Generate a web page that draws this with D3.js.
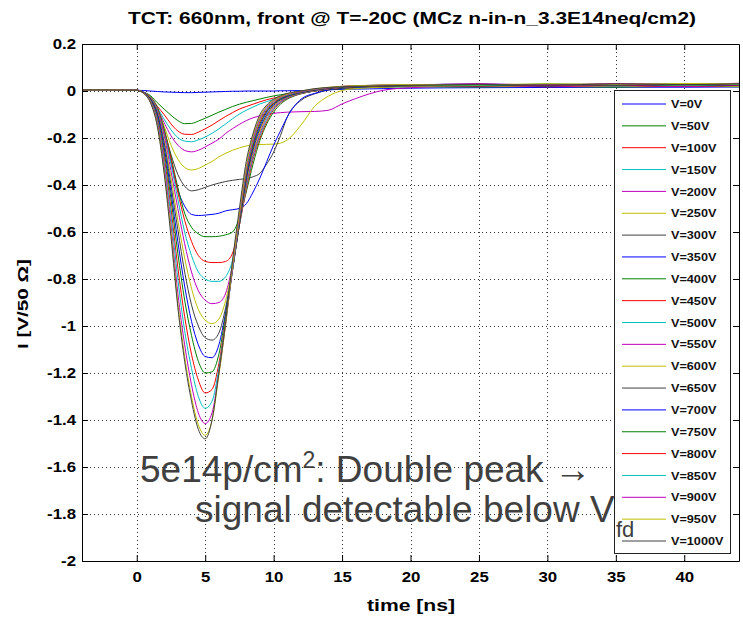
<!DOCTYPE html>
<html>
<head>
<meta charset="utf-8">
<script src="https://cdn.jsdelivr.net/npm/d3@7"></script>
<style>
body { margin: 0; background: #fff; }
svg { display: block; font-family: "Liberation Sans", Arial, Helvetica, sans-serif; }
</style>
</head>
<body>
<svg id="chart" width="743" height="629"></svg>
<script>
// sample times (ns)
var times = [-4, 0, 0.5, 1, 1.5, 2, 2.5, 3, 3.5, 4, 4.5, 5, 5.5, 6, 6.5, 7, 7.5, 8, 8.5, 9, 9.5, 10, 10.5, 11, 12, 13, 14, 15, 16, 17, 18, 20, 25, 30, 35, 40, 44]

var voltages = [0, 50, 100, 150, 200, 250, 300, 350, 400, 450, 500, 550, 600, 650, 700, 750, 800, 850, 900, 950, 1000]

// current I [V/50 Ohm] per bias voltage
var v0 = [0.005, 0.003, 0.002, 0.0, -0.002, -0.004, -0.005, -0.006, -0.007, -0.007, -0.006, -0.005, -0.004, -0.003, -0.002, -0.001, -0.001, 0.0, 0.0, 0.0, 0.0, 0.0, 0.001, 0.001, 0.002, 0.003, 0.005, 0.007, 0.008, 0.009, 0.01, 0.012, 0.014, 0.015, 0.016, 0.016, 0.017]
var v50 = [0.005, 0.003, -0.005, -0.02, -0.05, -0.077, -0.103, -0.126, -0.139, -0.138, -0.128, -0.116, -0.103, -0.09, -0.078, -0.066, -0.056, -0.048, -0.041, -0.034, -0.027, -0.021, -0.016, -0.012, -0.005, 0.001, 0.006, 0.01, 0.013, 0.015, 0.016, 0.018, 0.017, 0.02, 0.016, 0.021, 0.018]
var v100 = [0.005, 0.003, -0.005, -0.026, -0.065, -0.10, -0.14, -0.17, -0.184, -0.185, -0.175, -0.161, -0.145, -0.126, -0.108, -0.092, -0.077, -0.066, -0.056, -0.046, -0.037, -0.03, -0.024, -0.018, -0.008, 0.0, 0.007, 0.011, 0.014, 0.016, 0.018, 0.02, 0.023, 0.018, 0.022, 0.019, 0.023]
var v150 = [0.005, 0.003, -0.005, -0.027, -0.07, -0.12, -0.165, -0.198, -0.213, -0.216, -0.208, -0.196, -0.18, -0.161, -0.14, -0.118, -0.098, -0.082, -0.068, -0.055, -0.045, -0.036, -0.028, -0.021, -0.01, 0.0, 0.008, 0.012, 0.015, 0.017, 0.019, 0.021, 0.02, 0.025, 0.021, 0.026, 0.022]
var v200 = [0.005, 0.003, -0.005, -0.028, -0.075, -0.135, -0.19, -0.23, -0.253, -0.259, -0.252, -0.238, -0.222, -0.205, -0.18, -0.16, -0.142, -0.126, -0.114, -0.105, -0.099, -0.095, -0.092, -0.09, -0.088, -0.087, -0.082, -0.055, -0.032, -0.012, 0.003, 0.014, 0.022, 0.019, 0.024, 0.02, 0.025]
var v250 = [0.005, 0.003, -0.005, -0.03, -0.08, -0.15, -0.23, -0.29, -0.325, -0.336, -0.33, -0.315, -0.3, -0.28, -0.265, -0.252, -0.242, -0.234, -0.23, -0.228, -0.227, -0.226, -0.222, -0.208, -0.145, -0.065, -0.022, 0.002, 0.01, 0.014, 0.017, 0.02, 0.019, 0.024, 0.021, 0.025, 0.02]
var v300 = [0.005, 0.003, -0.005, -0.03, -0.085, -0.17, -0.27, -0.355, -0.405, -0.425, -0.42, -0.41, -0.4, -0.392, -0.385, -0.38, -0.376, -0.373, -0.365, -0.35, -0.31, -0.26, -0.19, -0.11, -0.04, -0.012, 0.004, 0.012, 0.016, 0.018, 0.02, 0.022, 0.026, 0.021, 0.027, 0.023, 0.028]
var v350 = [0.005, 0.003, -0.005, -0.03, -0.09, -0.17, -0.3, -0.42, -0.49, -0.525, -0.53, -0.528, -0.525, -0.52, -0.51, -0.505, -0.5, -0.48, -0.43, -0.37, -0.3, -0.23, -0.17, -0.11, -0.035, -0.01, 0.005, 0.013, 0.017, 0.019, 0.021, 0.023, 0.021, 0.027, 0.022, 0.027, 0.024]
var v400 = [0.005, 0.003, -0.005, -0.024, -0.07, -0.16, -0.28, -0.41, -0.52, -0.58, -0.608, -0.62, -0.62, -0.618, -0.612, -0.6, -0.54, -0.43, -0.31, -0.21, -0.14, -0.09, -0.056, -0.035, -0.012, 0.0, 0.008, 0.014, 0.018, 0.02, 0.022, 0.023, 0.027, 0.022, 0.028, 0.024, 0.029]
var v450 = [0.005, 0.003, -0.005, -0.025, -0.075, -0.17, -0.29, -0.43, -0.55, -0.64, -0.70, -0.725, -0.73, -0.73, -0.725, -0.69, -0.57, -0.42, -0.29, -0.2, -0.13, -0.08, -0.05, -0.032, -0.011, 0.0, 0.009, 0.015, 0.019, 0.021, 0.022, 0.024, 0.021, 0.026, 0.023, 0.029, 0.025]
var v500 = [0.005, 0.003, -0.005, -0.026, -0.08, -0.18, -0.31, -0.46, -0.6, -0.7, -0.77, -0.8, -0.81, -0.81, -0.79, -0.72, -0.57, -0.41, -0.28, -0.19, -0.12, -0.075, -0.047, -0.03, -0.01, 0.001, 0.01, 0.016, 0.02, 0.022, 0.023, 0.024, 0.028, 0.023, 0.029, 0.025, 0.03]
var v550 = [0.005, 0.003, -0.006, -0.028, -0.085, -0.19, -0.34, -0.5, -0.65, -0.77, -0.85, -0.89, -0.905, -0.9, -0.86, -0.74, -0.57, -0.4, -0.27, -0.18, -0.11, -0.07, -0.044, -0.028, -0.009, 0.002, 0.01, 0.016, 0.02, 0.022, 0.023, 0.025, 0.023, 0.028, 0.024, 0.03, 0.026]
var v600 = [0.005, 0.003, -0.006, -0.03, -0.09, -0.21, -0.37, -0.55, -0.71, -0.84, -0.93, -0.975, -0.99, -0.97, -0.89, -0.75, -0.57, -0.39, -0.26, -0.17, -0.105, -0.065, -0.04, -0.026, -0.008, 0.002, 0.011, 0.017, 0.021, 0.022, 0.024, 0.025, 0.029, 0.024, 0.03, 0.026, 0.031]
var v650 = [0.005, 0.003, -0.007, -0.032, -0.095, -0.22, -0.4, -0.59, -0.77, -0.91, -1.0, -1.05, -1.06, -1.03, -0.92, -0.76, -0.57, -0.38, -0.25, -0.16, -0.1, -0.06, -0.038, -0.024, -0.007, 0.003, 0.011, 0.017, 0.02, 0.022, 0.023, 0.025, 0.022, 0.027, 0.025, 0.03, 0.027]
var v700 = [0.005, 0.003, -0.007, -0.035, -0.1, -0.24, -0.43, -0.64, -0.83, -0.98, -1.08, -1.13, -1.135, -1.08, -0.94, -0.76, -0.56, -0.37, -0.24, -0.15, -0.09, -0.056, -0.035, -0.022, -0.006, 0.004, 0.012, 0.018, 0.021, 0.023, 0.024, 0.026, 0.03, 0.025, 0.031, 0.027, 0.032]
var v750 = [0.005, 0.003, -0.008, -0.037, -0.11, -0.26, -0.46, -0.69, -0.89, -1.04, -1.15, -1.2, -1.195, -1.12, -0.95, -0.76, -0.56, -0.36, -0.23, -0.14, -0.085, -0.053, -0.033, -0.02, -0.005, 0.005, 0.012, 0.018, 0.021, 0.023, 0.024, 0.025, 0.024, 0.029, 0.026, 0.031, 0.027]
var v800 = [0.005, 0.003, -0.008, -0.04, -0.118, -0.28, -0.5, -0.75, -0.96, -1.12, -1.23, -1.285, -1.27, -1.16, -0.97, -0.76, -0.55, -0.35, -0.22, -0.13, -0.08, -0.05, -0.03, -0.018, -0.004, 0.006, 0.013, 0.019, 0.022, 0.023, 0.025, 0.026, 0.029, 0.025, 0.03, 0.028, 0.032]
var v850 = [0.005, 0.003, -0.009, -0.042, -0.125, -0.3, -0.53, -0.8, -1.02, -1.18, -1.3, -1.35, -1.32, -1.18, -0.98, -0.76, -0.54, -0.34, -0.21, -0.12, -0.075, -0.045, -0.028, -0.017, -0.003, 0.007, 0.014, 0.019, 0.022, 0.024, 0.025, 0.027, 0.025, 0.03, 0.027, 0.032, 0.029]
var v900 = [0.005, 0.003, -0.009, -0.045, -0.135, -0.32, -0.57, -0.86, -1.08, -1.25, -1.37, -1.415, -1.37, -1.2, -0.99, -0.75, -0.53, -0.33, -0.2, -0.115, -0.07, -0.042, -0.026, -0.015, -0.002, 0.008, 0.014, 0.02, 0.022, 0.024, 0.025, 0.026, 0.03, 0.026, 0.031, 0.028, 0.033]
var v950 = [0.005, 0.003, -0.01, -0.048, -0.145, -0.34, -0.6, -0.9, -1.13, -1.3, -1.42, -1.465, -1.4, -1.21, -0.99, -0.74, -0.52, -0.32, -0.19, -0.11, -0.065, -0.04, -0.024, -0.013, 0.0, 0.009, 0.016, 0.02, 0.023, 0.024, 0.026, 0.027, 0.026, 0.031, 0.028, 0.032, 0.03]
var v1000 = [0.005, 0.003, -0.01, -0.05, -0.15, -0.35, -0.62, -0.92, -1.15, -1.32, -1.44, -1.48, -1.4, -1.2, -0.98, -0.72, -0.5, -0.3, -0.18, -0.1, -0.06, -0.035, -0.02, -0.01, 0.0, 0.01, 0.015, 0.018, 0.02, 0.021, 0.022, 0.024, 0.028, 0.025, 0.03, 0.027, 0.031]

var series = [v0, v50, v100, v150, v200, v250, v300, v350, v400, v450, v500, v550, v600, v650, v700, v750, v800, v850, v900, v950, v1000]

// matlab default line colour order
var colors = ["#0000ff", "#008000", "#ff0000", "#00bfbf", "#bf00bf", "#bfbf00", "#404040"]

var xTicks = [0, 5, 10, 15, 20, 25, 30, 35, 40]
var yTicks = [0.2, 0, -0.2, -0.4, -0.6, -0.8, -1, -1.2, -1.4, -1.6, -1.8, -2]
var yTickLabels = ["0.2", "0", "-0.2", "-0.4", "-0.6", "-0.8", "-1", "-1.2", "-1.4", "-1.6", "-1.8", "-2"]

// plot box (window.top is reserved, so no "top" here)
var pLeft = 82, pRight = 739, pTop = 44, pBottom = 561
var stretchK = 1.12

var svg = d3.select("#chart")
svg.append("rect").attr("width", 743).attr("height", 629).attr("fill", "#fff")

var x = d3.scaleLinear().domain([-4, 44]).range([pLeft, pRight])
var y = d3.scaleLinear().domain([-2, 0.2]).range([pBottom, pTop])

// matlab text looks wider than helvetica here, so widen glyphs a bit
function stretch(sel, k) {
    sel.each(function () {
        var w = this.getComputedTextLength()
        d3.select(this).attr("textLength", w * k).attr("lengthAdjust", "spacingAndGlyphs")
    })
}

svg.append("defs").append("clipPath").attr("id", "plotclip")
    .append("rect").attr("x", pLeft).attr("y", pTop).attr("width", pRight - pLeft).attr("height", pBottom - pTop)

// dotted grid
var grid = svg.append("g")
grid.selectAll(".gx").data(xTicks).enter().append("line")
    .attr("x1", function (d) { return Math.round(x(d)) + 0.5 }).attr("x2", function (d) { return Math.round(x(d)) + 0.5 })
    .attr("y1", pTop).attr("y2", pBottom)
    .attr("stroke", "#333").attr("stroke-width", 1).attr("stroke-dasharray", "1,3")
grid.selectAll(".gy").data(yTicks).enter().append("line")
    .attr("y1", function (d) { return Math.round(y(d)) + 0.5 }).attr("y2", function (d) { return Math.round(y(d)) + 0.5 })
    .attr("x1", pLeft).attr("x2", pRight)
    .attr("stroke", "#333").attr("stroke-width", 1).attr("stroke-dasharray", "1,3")

var line = d3.line()
    .x(function (d) { return x(d[0]) })
    .y(function (d) { return y(d[1]) })
    .curve(d3.curveMonotoneX)

svg.append("g").attr("clip-path", "url(#plotclip)")
    .selectAll("path").data(series).enter().append("path")
    .attr("d", function (s) { return line(times.map(function (t, i) { return [t, s[i]] })) })
    .attr("fill", "none")
    .attr("stroke", function (s, i) { return colors[i % 7] })
    .attr("stroke-width", 1)

// axes (ticks pointing inwards, box all round)
var xAxis = svg.append("g").attr("transform", "translate(0," + pBottom + ")")
    .call(d3.axisBottom(x).tickValues(xTicks).tickSizeInner(-6).tickSizeOuter(0).tickPadding(10).tickFormat(d3.format("d")))
var yAxis = svg.append("g").attr("transform", "translate(" + pLeft + ",0)")
    .call(d3.axisLeft(y).tickValues(yTicks).tickSizeInner(-6).tickSizeOuter(0).tickPadding(6)
        .tickFormat(function (d, i) { return yTickLabels[i] }))
svg.append("g").attr("transform", "translate(0," + pTop + ")")
    .call(d3.axisTop(x).tickValues(xTicks).tickSizeInner(-6).tickSizeOuter(0).tickFormat(""))
svg.append("g").attr("transform", "translate(" + pRight + ",0)")
    .call(d3.axisRight(y).tickValues(yTicks).tickSizeInner(-6).tickSizeOuter(0).tickFormat(""))

svg.selectAll(".domain").attr("stroke", "#000").attr("stroke-width", 1)
svg.selectAll(".tick line").attr("stroke", "#000")
svg.selectAll(".tick text").attr("font-size", "15px").attr("font-weight", "bold").attr("fill", "#000")
    .attr("font-family", "'Liberation Sans', Arial, sans-serif")
stretch(xAxis.selectAll(".tick text"), stretchK)
stretch(yAxis.selectAll(".tick text"), stretchK)

// titles
svg.append("text").text("TCT: 660nm, front @ T=-20C (MCz n-in-n_3.3E14neq/cm2)")
    .attr("x", 412).attr("y", 24).attr("text-anchor", "middle")
    .attr("font-size", "17px").attr("font-weight", "bold").attr("fill", "#000")
    .attr("textLength", 568).attr("lengthAdjust", "spacingAndGlyphs")
svg.append("text").text("time [ns]")
    .attr("x", 411).attr("y", 611).attr("text-anchor", "middle")
    .attr("font-size", "16px").attr("font-weight", "bold").attr("fill", "#000")
    .attr("textLength", 88).attr("lengthAdjust", "spacingAndGlyphs")
svg.append("text").text("I [V/50 \u03A9]")
    .attr("transform", "translate(28,304) rotate(-90)").attr("text-anchor", "middle")
    .attr("font-size", "15px").attr("font-weight", "bold").attr("fill", "#000")
    .attr("textLength", 90).attr("lengthAdjust", "spacingAndGlyphs")

// legend
var lg = svg.append("g")
lg.append("rect").attr("x", 614.5).attr("y", 90.5).attr("width", 116).attr("height", 463)
    .attr("fill", "#fff").attr("stroke", "#222").attr("stroke-width", 1)
var items = lg.selectAll(".item").data(voltages).enter().append("g")
    .attr("transform", function (d, i) { return "translate(0," + (104 + i * 21.85) + ")" })
items.append("line").attr("x1", 622).attr("x2", 666).attr("y1", 0).attr("y2", 0)
    .attr("stroke", function (d, i) { return colors[i % 7] }).attr("stroke-width", 1)
var ltext = items.append("text").text(function (d) { return "V=" + d + "V" })
    .attr("x", 671).attr("y", 0).attr("dy", "0.36em")
    .attr("font-size", "11.5px").attr("font-weight", "bold").attr("fill", "#111")
stretch(ltext, 1.1)

// annotation pasted on the slide
var note = svg.append("g").attr("fill", "#404040").attr("font-family", "Arial, 'Liberation Sans', sans-serif")
var n1 = note.append("text").attr("x", 140).attr("y", 482).attr("font-size", "37px")
n1.append("tspan").text("5e14p/cm")
n1.append("tspan").text("2").attr("font-size", "23px").attr("dy", -14)
n1.append("tspan").text(": Double peak \u2192").attr("dy", 14)
note.append("text").text("signal detectable below V").attr("x", 195).attr("y", 522).attr("font-size", "37px")
note.append("text").text("fd").attr("x", 616).attr("y", 537).attr("font-size", "22px")
</script>
</body>
</html>
